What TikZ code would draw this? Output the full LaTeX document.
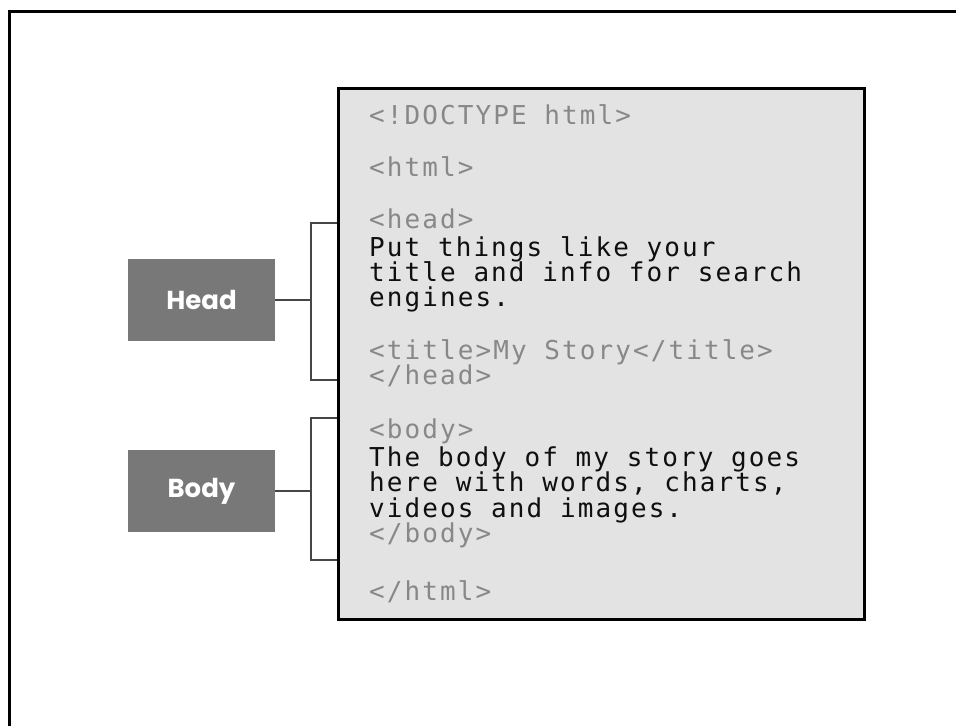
\documentclass[tikz,border=0pt]{standalone}
\usepackage{fontspec}
\newfontfamily\codefont[LetterSpace=8]{DejaVu Sans Mono}
\newfontfamily\labelfont{Poppins}
\definecolor{tagc}{RGB}{136,136,136}
\definecolor{txtc}{RGB}{15,15,15}
\definecolor{boxgray}{RGB}{120,120,120}
\definecolor{codefill}{RGB}{227,227,227}
\definecolor{brk}{RGB}{70,70,70}
\tikzset{
  frameline/.style={line width=3pt, black},
  codebox/.style={draw=black, line width=2.5pt, fill=codefill, rectangle, anchor=north west, inner sep=0pt, minimum width=526pt, minimum height=531pt},
  labelbox/.style={fill=boxgray, rectangle, inner sep=0pt, minimum width=147pt, minimum height=82pt, text=white, font=\labelfont\bfseries\fontsize{26}{28}\selectfont},
  bracket/.style={draw=brk, line width=2pt},
  codeline/.style={anchor=base west, inner sep=0pt, font=\codefont\fontsize{26}{28}\selectfont},
  tagline/.style={codeline, text=tagc},
  txtline/.style={codeline, text=txtc},
}
\begin{document}
\begin{tikzpicture}[x=1pt,y=-1pt]
\useasboundingbox (0,0) rectangle (956,726);
\fill[white] (0,0) rectangle (956,726);
\draw[frameline] (9,726) -- (9,11) -- (956,11);

\node[codebox] (code) at (337,87) {};

\node[labelbox] (head) at (201.5,300) {Head};
\node[labelbox] (body) at (201.5,491) {Body};

\coordinate (hbt) at (311,223);
\coordinate (hbb) at (311,380);
\coordinate (bbt) at (311,418);
\coordinate (bbb) at (311,560);

\draw[bracket] (code.west |- hbt) -- (hbt) -- (hbb) -- (code.west |- hbb);
\draw[bracket] (head.east) -- (head.east -| hbt);
\draw[bracket] (code.west |- bbt) -- (bbt) -- (bbb) -- (code.west |- bbb);
\draw[bracket] (body.east) -- (body.east -| bbt);

\node[tagline] (l1) at (369,124) {<!DOCTYPE html>};
\node[tagline] (l2) at (369,176) {<html>};
\node[tagline] (l3) at (369,228) {<head>};
\node[txtline] (l4) at (369,256) {Put things like your};
\node[txtline] (l5) at (369,281) {title and info for search};
\node[txtline] (l6) at (369,306) {engines.};
\node[tagline] (l7) at (369,359) {<title>My Story</title>};
\node[tagline] (l8) at (369,384) {</head>};
\node[tagline] (l9) at (369,438) {<body>};
\node[txtline] (l10) at (369,466) {The body of my story goes};
\node[txtline] (l11) at (369,491) {here with words, charts,};
\node[txtline] (l12) at (369,517) {videos and images.};
\node[tagline] (l13) at (369,542) {</body>};
\node[tagline] (l14) at (369,600) {</html>};
\end{tikzpicture}
\end{document}
